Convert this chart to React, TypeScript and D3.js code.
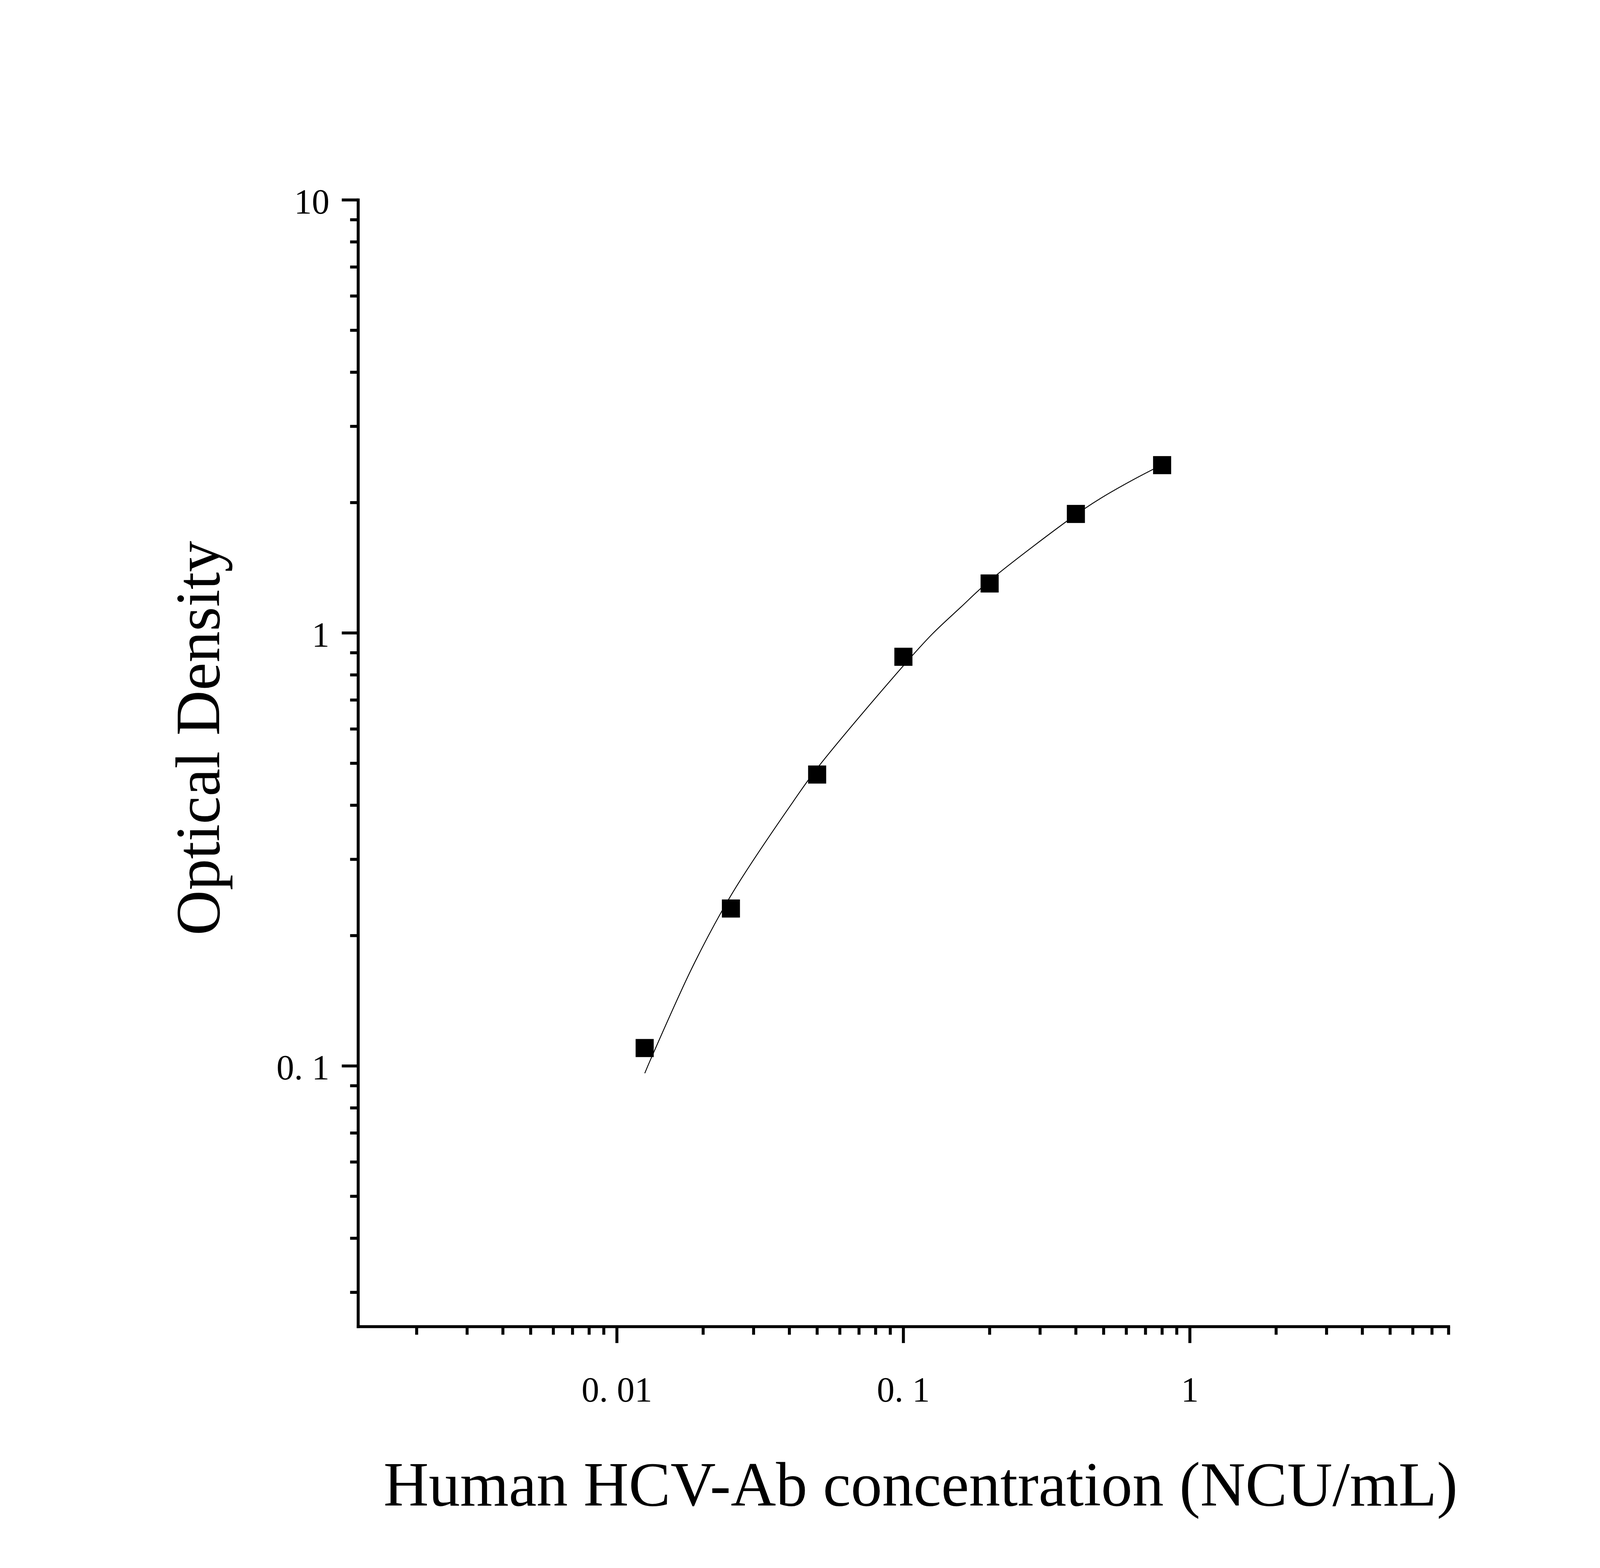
import React, { useEffect, useState } from "react";
import * as d3 from "d3";

// ---- data ----
const concentrations = [0.0125, 0.025, 0.05, 0.1, 0.2, 0.4, 0.8];
const opticalDensity = [0.11, 0.231, 0.471, 0.881, 1.301, 1.883, 2.441];

// fitted standard curve
const fitConcentration = [
  0.01251, 0.01311, 0.01816, 0.02324, 0.02717, 0.04128, 0.05014, 0.0999,
  0.1263, 0.158, 0.1998, 0.3997, 0.4833, 0.6281, 0.8,
];
const fitOD = [
  0.0962, 0.1035, 0.1668, 0.2278, 0.2706, 0.4083, 0.4882, 0.8395, 0.9952,
  1.144, 1.32, 1.875, 2.038, 2.251, 2.446,
];

const xDomain = [0.00125, 8];
const yDomain = [0.025, 10];
const xMajorTicks = [0.01, 0.1, 1];
const xTickLabels = ["0. 01", "0. 1", "1"];
const yMajorTicks = [0.1, 1, 10];
const yTickLabels = ["0. 1", "1", "10"];
const xTitle = "Human HCV-Ab concentration (NCU/mL)";
const yTitle = "Optical Density";

// ---- layout, expressed in the 5749 x 4015 reference space ----
const REF_W = 5749;
const REF_H = 4015;
const PLOT_LEFT = 1287;
const PLOT_RIGHT = 5205;
const PLOT_TOP = 512;
const PLOT_BOTTOM = 3397;
const AXIS_W = 10.7;
const MAJOR_LEN = 59;
const MINOR_LEN = 29;
const MARK = 65;
const CURVE_W = 3.2;
const FONT = "'Liberation Serif', 'Times New Roman', serif";
const TICK_FS = 127;
const TITLE_FS = 225;

const isMajor = (v: number, majors: number[]) =>
  majors.some((m) => Math.abs(Math.log10(v) - Math.log10(m)) < 1e-6);

function useWindowSize() {
  const get = () => ({
    w: typeof window !== "undefined" ? window.innerWidth : REF_W,
    h: typeof window !== "undefined" ? window.innerHeight : REF_H,
  });
  const [size, setSize] = useState(get);
  useEffect(() => {
    const onResize = () => setSize(get());
    window.addEventListener("resize", onResize);
    onResize();
    return () => window.removeEventListener("resize", onResize);
  }, []);
  return size;
}

export default function App() {
  const { w, h } = useWindowSize();
  const sx = w / REF_W;
  const sy = h / REF_H;
  const k = Math.min(sx, sy);

  const x = d3
    .scaleLog()
    .domain(xDomain)
    .range([PLOT_LEFT * sx, PLOT_RIGHT * sx]);
  const y = d3
    .scaleLog()
    .domain(yDomain)
    .range([PLOT_BOTTOM * sy, PLOT_TOP * sy]);

  const xMinor = x.ticks().filter((v) => !isMajor(v, xMajorTicks));
  const yMinor = y.ticks().filter((v) => !isMajor(v, yMajorTicks));

  const fitPoints: [number, number][] = fitConcentration.map((c, i) => [
    x(c),
    y(fitOD[i]),
  ]);
  const line = d3
    .line<[number, number]>()
    .x((d) => d[0])
    .y((d) => d[1])
    .curve(d3.curveCatmullRom.alpha(0.5));

  const left = PLOT_LEFT * sx;
  const right = PLOT_RIGHT * sx;
  const top = PLOT_TOP * sy;
  const bottom = PLOT_BOTTOM * sy;
  const aw = AXIS_W * k;
  const yTitleX = 737 * sx + 51 * k;
  const yTitleY = 1890 * sy;

  return (
    <svg
      width={w}
      height={h}
      viewBox={`0 0 ${w} ${h}`}
      style={{
        position: "fixed",
        left: 0,
        top: 0,
        background: "#fff",
        display: "block",
      }}
    >
      <rect x={0} y={0} width={w} height={h} fill="#fff" />

      {/* fitted curve */}
      <path
        d={line(fitPoints) || ""}
        fill="none"
        stroke="#000"
        strokeWidth={CURVE_W * k}
      />

      {/* data markers */}
      {concentrations.map((c, i) => (
        <rect
          key={"m" + i}
          x={x(c) - (MARK * k) / 2}
          y={y(opticalDensity[i]) - (MARK * k) / 2}
          width={MARK * k}
          height={MARK * k}
          fill="#000"
        />
      ))}

      {/* axis lines */}
      <line
        x1={left}
        y1={top}
        x2={left}
        y2={bottom}
        stroke="#000"
        strokeWidth={aw}
        strokeLinecap="square"
      />
      <line
        x1={left}
        y1={bottom}
        x2={right}
        y2={bottom}
        stroke="#000"
        strokeWidth={aw}
        strokeLinecap="square"
      />

      {/* x ticks */}
      {xMinor.map((v, i) => (
        <line
          key={"xm" + i}
          x1={x(v)}
          x2={x(v)}
          y1={bottom}
          y2={bottom + MINOR_LEN * k}
          stroke="#000"
          strokeWidth={aw}
        />
      ))}
      {xMajorTicks.map((v, i) => (
        <g key={"xM" + i}>
          <line
            x1={x(v)}
            x2={x(v)}
            y1={bottom}
            y2={bottom + MAJOR_LEN * k}
            stroke="#000"
            strokeWidth={aw}
          />
          <text
            x={x(v)}
            y={3558 * sy + 43 * k}
            textAnchor="middle"
            fontFamily={FONT}
            fontSize={TICK_FS * k}
            fill="#000"
            style={{ whiteSpace: "pre" }}
          >
            {xTickLabels[i]}
          </text>
        </g>
      ))}

      {/* y ticks */}
      {yMinor.map((v, i) => (
        <line
          key={"ym" + i}
          x1={left}
          x2={left - MINOR_LEN * k}
          y1={y(v)}
          y2={y(v)}
          stroke="#000"
          strokeWidth={aw}
        />
      ))}
      {yMajorTicks.map((v, i) => (
        <g key={"yM" + i}>
          <line
            x1={left}
            x2={left - MAJOR_LEN * k}
            y1={y(v)}
            y2={y(v)}
            stroke="#000"
            strokeWidth={aw}
          />
          <text
            x={left - 103 * k}
            y={y(v) + 49 * k}
            textAnchor="end"
            fontFamily={FONT}
            fontSize={TICK_FS * k}
            fill="#000"
            style={{ whiteSpace: "pre" }}
          >
            {yTickLabels[i]}
          </text>
        </g>
      ))}

      {/* axis titles */}
      <text
        x={1378 * sx}
        y={3802 * sy + 75 * k}
        textAnchor="start"
        fontFamily={FONT}
        fontSize={TITLE_FS * k}
        fill="#000"
      >
        {xTitle}
      </text>
      <text
        x={yTitleX}
        y={yTitleY}
        transform={`rotate(-90, ${yTitleX}, ${yTitleY})`}
        textAnchor="middle"
        fontFamily={FONT}
        fontSize={TITLE_FS * k}
        fill="#000"
      >
        {yTitle}
      </text>
    </svg>
  );
}
